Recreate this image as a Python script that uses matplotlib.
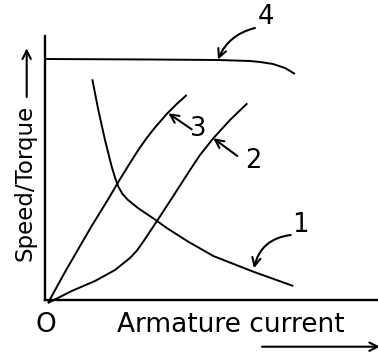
import matplotlib
matplotlib.use("Agg")
import matplotlib.pyplot as plt

# Curve data (x: armature current, y: speed/torque), arbitrary diagram units
c1_x = [47.3, 53.3, 60, 66.7, 70.5, 73.5, 77.5, 83, 93.3, 110, 121.7, 143.3, 168.3, 208.3, 248.3]
c1_y = [220.7, 190, 160, 133.3, 121, 113, 106, 100, 91.7, 80.5, 72, 58.3, 44, 28.3, 14]

c2_x = [3, 26.7, 50, 70, 85, 92, 98, 112, 127, 145, 155, 168.3, 185, 202.3]
c2_y = [-3, 9, 19, 30, 42, 49.5, 58, 79, 102, 130, 145, 161.7, 180, 196.7]

c3_x = [3, 20, 33.3, 46.7, 63.3, 73.3, 85, 93.3, 101.7, 110, 121.7, 131.7, 141.7]
c3_y = [-3, 28, 51, 74, 101, 118, 137, 150, 162, 172.5, 186, 196, 205]

c4_x = [1, 105, 173, 205, 215, 228, 240, 250]
c4_y = [241, 240.5, 240, 239, 238, 236, 232, 226]

curve_labels = ["1", "2", "3", "4"]
x_label = "Armature current"
y_label = "Speed/Torque"

W, H = 378, 352
fig = plt.figure(figsize=(W / 100, H / 100), dpi=100)
ax = fig.add_axes([45 / W, 52 / H, 333 / W, 264 / H])
ax.set_xlim(0, 333)
ax.set_ylim(0, 264)
for s in ["top", "right"]:
    ax.spines[s].set_visible(False)
for s in ["left", "bottom"]:
    ax.spines[s].set_linewidth(1.7)
    ax.spines[s].set_color("black")
ax.set_xticks([])
ax.set_yticks([])

lw = 1.4
for xs, ys in [(c1_x, c1_y), (c2_x, c2_y), (c3_x, c3_y), (c4_x, c4_y)]:
    ax.plot(xs, ys, color="black", lw=lw, clip_on=False,
            solid_capstyle="butt", solid_joinstyle="round")

arrow_kw = dict(arrowstyle="->,head_length=0.6,head_width=0.3", color="black",
                lw=1.5, shrinkA=0, shrinkB=0, mutation_scale=10)

# pointer arrows
ax.annotate("", xy=(173, 240.5), xytext=(210, 272),
            arrowprops=dict(connectionstyle="arc3,rad=0.25", **arrow_kw), annotation_clip=False)
ax.annotate("", xy=(123.3, 186.7), xytext=(146.7, 170.7),
            arrowprops=dict(**arrow_kw), annotation_clip=False)
ax.annotate("", xy=(168.3, 161.7), xytext=(192.3, 144),
            arrowprops=dict(**arrow_kw), annotation_clip=False)
ax.annotate("", xy=(209, 31.7), xytext=(245.7, 65),
            arrowprops=dict(connectionstyle="arc3,rad=0.35", **arrow_kw), annotation_clip=False)

fs_num = 18.5
ax.text(221, 276, curve_labels[3], fontsize=fs_num, ha="center", va="baseline", clip_on=False)
ax.text(153.3, 164, curve_labels[2], fontsize=fs_num, ha="center", va="baseline", clip_on=False)
ax.text(208, 132.5, curve_labels[1], fontsize=fs_num, ha="center", va="baseline", clip_on=False)
ax.text(255, 68.3, curve_labels[0], fontsize=fs_num, ha="center", va="baseline", clip_on=False)

ax.text(1, -32, "O", fontsize=19, ha="center", va="baseline", clip_on=False)
ax.text(72, -32, x_label, fontsize=19, ha="left", va="baseline", clip_on=False)
ax.text(-13.5, 117.5, y_label, fontsize=16.5, rotation=90, rotation_mode="anchor",
        ha="center", va="baseline", clip_on=False)

# axis direction arrows
ax.annotate("", xy=(-18.3, 251.7), xytext=(-18.3, 203),
            arrowprops=dict(**arrow_kw), annotation_clip=False)
ax.annotate("", xy=(335, -46.7), xytext=(217, -46.7),
            arrowprops=dict(**arrow_kw), annotation_clip=False)

fig.savefig("out.png", dpi=100)
